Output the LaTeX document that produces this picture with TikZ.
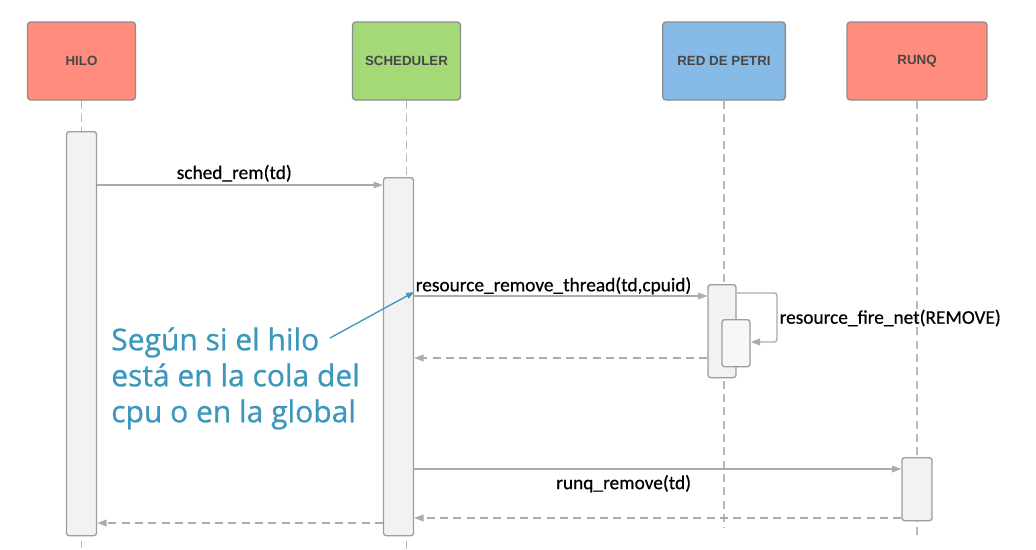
\documentclass[tikz,border=0pt]{standalone}
\usepackage{fontspec}
\setmainfont{Carlito}[FakeBold=0.6]
\setsansfont{Liberation Sans}
\newfontfamily\notefont{Open Sans}[FakeBold=0.8]
\usepackage{xcolor}
\usetikzlibrary{arrows.meta,positioning}
\definecolor{hilored}{HTML}{FF8C7C}
\definecolor{schedgreen}{HTML}{A3D977}
\definecolor{petriblue}{HTML}{85BBE6}
\definecolor{framegray}{HTML}{8C8C8C}
\definecolor{linegray}{HTML}{ABABAB}
\definecolor{bargray}{HTML}{F2F2F2}
\definecolor{noteblue}{HTML}{3D97BC}

\begin{document}
\begin{tikzpicture}[
  x=0.75pt, y=-0.75pt,
  >={Triangle[length=7pt,width=5pt]},
  font=\fontsize{14.5}{16}\selectfont,
  actor/.style={draw=framegray, line width=1pt, rounded corners=2.5pt,
                minimum width=#1, minimum height=58.5pt, inner sep=2pt,
                font=\sffamily\bfseries\fontsize{10}{12}\selectfont, text=black!72},
  actor/.default=81pt,
  actbar/.style={draw=framegray!85, fill=bargray, line width=1pt, rounded corners=2pt,
                 minimum width=22.5pt, inner sep=0pt, anchor=north},
  lifeline/.style={draw=linegray!85, line width=1pt, dash pattern=on 6pt off 4pt},
  msg/.style={->, draw=linegray, line width=1pt},
  reply/.style={msg, dash pattern=on 6pt off 4pt},
  lbl/.style={inner sep=1pt, text=black},
  note/.style={align=left, inner sep=0pt, text=noteblue,
               font=\notefont\fontsize{22.5}{27}\selectfont},
]
  \useasboundingbox (0,0) rectangle (1036,550);

  % actors
  \node[actor, fill=hilored] (hilo) at (81.5,61) {HILO};
  \node[actor, fill=schedgreen] (sched) at (406.5,61) {SCHEDULER};
  \node[actor=92pt, fill=petriblue] (petri) at (724,61) {RED DE PETRI};
  \node[actor=105pt, fill=hilored] (runq) at (917,61) {RUNQ};

  % lifelines
  \coordinate (hiloend) at (0,548);
  \coordinate (schedend) at (0,550);
  \coordinate (petriend) at (0,528);
  \coordinate (runqend) at (0,535);
  \draw[lifeline] (hilo.south) -- (hilo.south |- hiloend);
  \draw[lifeline] (sched.south) -- (sched.south |- schedend);
  \draw[lifeline] (petri.south) -- (petri.south |- petriend);
  \draw[lifeline] (runq.south) -- (runq.south |- runqend);

  % activation bars
  \node[actbar, minimum height=303pt] (hiloact) at (81.5,131) {};
  \node[actbar, minimum height=268.5pt] (schedact) at (398.5,177) {};
  \node[actbar, minimum height=69.75pt, minimum width=21pt] (petriact) at (722,284) {};
  \node[actbar, minimum height=35.25pt, minimum width=21pt, fill=white!97!black] (petriin) at (736,319) {};
  \node[actbar, minimum height=47.25pt] (runqact) at (917,457) {};

  % message levels
  \coordinate (m1) at (0,185);
  \coordinate (m2) at (0,296);
  \coordinate (loopne) at (777,293);
  \coordinate (loopse) at (777,342);
  \coordinate (r2) at (0,358);
  \coordinate (m3) at (0,469);
  \coordinate (r3) at (0,518);
  \coordinate (r1) at (0,523);

  % calls
  \draw[msg] (hiloact.east |- m1) --
     node[lbl, above=1pt, pos=0.48] (remlbl) {sched\_rem(td)} (schedact.west |- m1);
  \draw[msg] (schedact.east |- m2) -- (petriact.west |- m2);
  \node[lbl, anchor=south west] (rrtlbl) at (schedact.east |- m2)
     {resource\_remove\_thread(td,cpuid)};
  \draw[msg, rounded corners=2pt] (petriact.east |- loopne) -- (loopne)
     -- (loopse) -- (petriin.east |- loopse);
  \node[lbl, anchor=west] (firelbl) at (778,318) {resource\_fire\_net(REMOVE)};
  \draw[msg] (schedact.east |- m3) --
     node[lbl, below=3pt, pos=0.43] (runqlbl) {runq\_remove(td)} (runqact.west |- m3);

  % replies
  \draw[reply] (petriact.west |- r2) -- (schedact.east |- r2);
  \draw[reply] (runqact.west |- r3) -- (schedact.east |- r3);
  \draw[reply] (schedact.west |- r1) -- (hiloact.east |- r1);

  % annotation
  \node[note, anchor=north west] (notetxt) at (111,327)
    {Según si el hilo\\está en la cola del\\cpu o en la global};
  \coordinate (notetail) at (330,338);
  \draw[->, noteblue, line width=1pt, >={Triangle[length=6pt,width=4.5pt]}]
    (notetail) -- (schedact.east |- 0,292);
\end{tikzpicture}
\end{document}
